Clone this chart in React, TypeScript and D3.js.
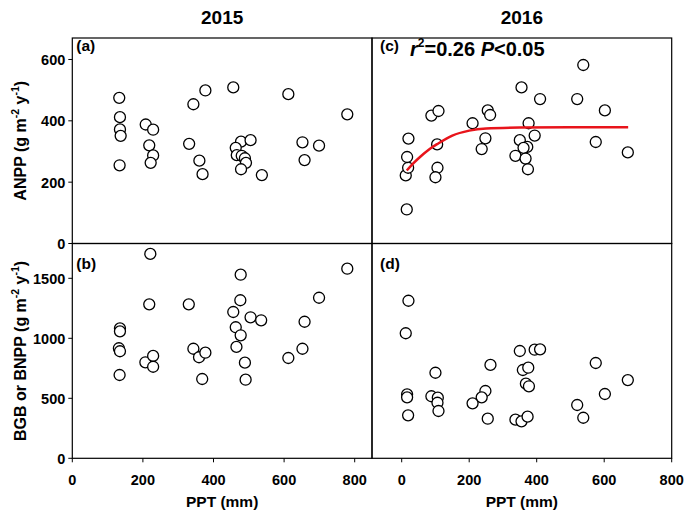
import React from "react";
import * as d3 from "d3";

// Panel (a): 2015 ANPP
const pptA = [133, 135, 135, 137, 134, 208, 229, 218, 229, 222, 343, 377, 331, 360, 369, 456, 478, 505, 463, 466, 480, 489, 492, 478, 537, 612, 652, 658, 699, 779];
const anppA = [475, 412, 372, 351, 255, 388, 371, 320, 287, 263, 454, 499, 325, 270, 226, 509, 332, 337, 312, 288, 286, 278, 263, 242, 223, 487, 330, 272, 319, 421];

// Panel (b): 2015 BGB/BNPP
const pptB = [221, 218, 135, 135, 132, 135, 134, 207, 229, 229, 330, 343, 359, 377, 368, 477, 476, 456, 505, 535, 463, 477, 465, 489, 491, 612, 652, 658, 699, 779];
const bnppB = [1703, 1283, 1083, 1058, 917, 892, 694, 800, 853, 763, 1283, 913, 842, 880, 661, 1530, 1317, 1219, 1175, 1150, 1092, 1025, 928, 797, 655, 836, 913, 1138, 1338, 1580];

// Panel (c): 2016 ANPP
const pptC = [15, 12, 19, 16, 20, 88, 109, 105, 106, 100, 210, 255, 262, 248, 237, 355, 376, 394, 350, 372, 361, 337, 367, 374, 410, 538, 520, 602, 575, 670];
const anppC = [111, 222, 247, 282, 342, 417, 432, 323, 247, 216, 392, 434, 419, 343, 308, 509, 392, 352, 337, 315, 312, 286, 277, 242, 471, 582, 471, 434, 331, 297];

// Panel (d): 2016 BGB/BNPP
const pptD = [20, 12, 16, 16, 19, 100, 88, 107, 106, 109, 263, 248, 237, 210, 255, 350, 394, 410, 359, 375, 368, 377, 337, 355, 373, 575, 670, 602, 520, 538];
const bnppD = [1313, 1042, 533, 508, 358, 713, 517, 505, 463, 394, 778, 561, 508, 458, 330, 894, 905, 908, 736, 755, 622, 600, 322, 308, 347, 794, 652, 536, 444, 338];

// Fitted curve in panel (c)
const fitPPT = [15, 35, 55, 80, 105, 150, 200, 250, 350, 500, 671];
const fitANPP = [238, 262, 283, 306, 324, 352, 368, 375, 378, 379, 379];

const xTicks = [0, 200, 400, 600, 800];
const anppTicks = [0, 200, 400, 600];
const bnppTicks = [0, 500, 1000, 1500];
const yearLabels = ["2015", "2016"];
const panelLabels = ["(a)", "(b)", "(c)", "(d)"];

const FONT = "'Liberation Sans', Arial, Helvetica, sans-serif";

const L0 = 72.3, L1 = 372, R1 = 671.7;
const T0 = 38, MID = 243.5, B1 = 458.3;

const xLeft = d3.scaleLinear().domain([0, 849]).range([L0, L1]);
const xRight = d3.scaleLinear().domain([-88, 800]).range([L1, R1]);
const yTop = d3.scaleLinear().domain([0, 670]).range([MID, T0]);
const yBot = d3.scaleLinear().domain([0, 1790]).range([B1, MID]);

function Points({ xs, ys, x, y }: any) {
  return (
    <g>
      {xs.map((v: number, i: number) => (
        <circle key={i} cx={x(v)} cy={y(ys[i])} r={5.5} fill="white" stroke="black" strokeWidth={1.3} />
      ))}
    </g>
  );
}

export default function App() {
  const fitLine = d3
    .line<number>()
    .x((d) => xRight(d))
    .y((_, i) => yTop(fitANPP[i]))
    .curve(d3.curveMonotoneX)(fitPPT);

  const tickFont = { fontFamily: FONT, fontWeight: 700, fontSize: 14.5 } as any;
  const lblFont = { fontFamily: FONT, fontWeight: 700, fontSize: 15.5 } as any;

  return (
    <svg width={685} height={513} style={{ position: "absolute", left: 0, top: 0, background: "white" }}>
      <rect x={0} y={0} width={685} height={513} fill="white" />
      {/* Year titles */}
      <text x={(L0 + L1) / 2} y={24} textAnchor="middle" style={{ fontFamily: FONT, fontWeight: 700, fontSize: 19 }}>{yearLabels[0]}</text>
      <text x={(L1 + R1) / 2} y={24} textAnchor="middle" style={{ fontFamily: FONT, fontWeight: 700, fontSize: 19 }}>{yearLabels[1]}</text>

      {/* Points */}
      <Points xs={pptA} ys={anppA} x={xLeft} y={yTop} />
      <Points xs={pptB} ys={bnppB} x={xLeft} y={yBot} />
      <Points xs={pptC} ys={anppC} x={xRight} y={yTop} />
      <Points xs={pptD} ys={bnppD} x={xRight} y={yBot} />

      {/* Fit */}
      <path d={fitLine || ""} fill="none" stroke="#e8141b" strokeWidth={2.5} />

      {/* Frames */}
      <rect x={L0} y={T0} width={L1 - L0} height={MID - T0} fill="none" stroke="black" strokeWidth={1.2} />
      <rect x={L1} y={T0} width={R1 - L1} height={MID - T0} fill="none" stroke="black" strokeWidth={1.2} />
      <rect x={L0} y={MID} width={L1 - L0} height={B1 - MID} fill="none" stroke="black" strokeWidth={1.2} />
      <rect x={L1} y={MID} width={R1 - L1} height={B1 - MID} fill="none" stroke="black" strokeWidth={1.2} />

      {/* Y ticks top */}
      {anppTicks.map((t) => (
        <g key={"yt" + t}>
          <line x1={L0 - 4} x2={L0} y1={yTop(t)} y2={yTop(t)} stroke="black" strokeWidth={1} />
          <text x={L0 - 7} y={yTop(t) + 5.5} textAnchor="end" style={tickFont}>{t}</text>
        </g>
      ))}
      {/* Y ticks bottom */}
      {bnppTicks.map((t) => (
        <g key={"yb" + t}>
          <line x1={L0 - 4} x2={L0} y1={yBot(t)} y2={yBot(t)} stroke="black" strokeWidth={1} />
          <text x={L0 - 7} y={yBot(t) + 5.5} textAnchor="end" style={tickFont}>{t}</text>
        </g>
      ))}
      {/* X ticks */}
      {xTicks.map((t) => (
        <g key={"xl" + t}>
          <line x1={xLeft(t)} x2={xLeft(t)} y1={B1} y2={B1 + 4} stroke="black" strokeWidth={1} />
          <text x={xLeft(t)} y={B1 + 27} textAnchor="middle" style={tickFont}>{t}</text>
        </g>
      ))}
      {xTicks.map((t) => (
        <g key={"xr" + t}>
          <line x1={xRight(t)} x2={xRight(t)} y1={B1} y2={B1 + 4} stroke="black" strokeWidth={1} />
          <text x={xRight(t)} y={B1 + 27} textAnchor="middle" style={tickFont}>{t}</text>
        </g>
      ))}

      {/* Panel labels */}
      <text x={L0 + 4} y={T0 + 13} style={lblFont}>{panelLabels[0]}</text>
      <text x={L0 + 4} y={MID + 25} style={lblFont}>{panelLabels[1]}</text>
      <text x={L1 + 8} y={T0 + 13} style={lblFont}>{panelLabels[2]}</text>
      <text x={L1 + 8} y={MID + 25} style={lblFont}>{panelLabels[3]}</text>

      {/* Stats */}
      <text x={410} y={56} style={{ fontFamily: FONT, fontWeight: 700, fontSize: 20 }}>
        <tspan fontStyle="italic">r</tspan>
        <tspan fontSize={12} dy={-9}>2</tspan>
        <tspan dy={9}>=0.26 </tspan>
        <tspan fontStyle="italic">P</tspan>
        <tspan>&lt;0.05</tspan>
      </text>

      {/* Axis titles */}
      <text x={(L0 + L1) / 2} y={507} textAnchor="middle" style={{ fontFamily: FONT, fontWeight: 700, fontSize: 15.5 }}>PPT (mm)</text>
      <text x={(L1 + R1) / 2} y={507} textAnchor="middle" style={{ fontFamily: FONT, fontWeight: 700, fontSize: 15.5 }}>PPT (mm)</text>

      <text transform={`translate(26,${(T0 + MID) / 2}) rotate(-90)`} textAnchor="middle" style={{ fontFamily: FONT, fontWeight: 700, fontSize: 16 }}>
        ANPP (g m<tspan fontSize={10.5} dy={-7}>-2</tspan><tspan dy={7}> y</tspan><tspan fontSize={10.5} dy={-7}>-1</tspan><tspan dy={7}>)</tspan>
      </text>
      <text transform={`translate(26,${(MID + B1) / 2}) rotate(-90)`} textAnchor="middle" style={{ fontFamily: FONT, fontWeight: 700, fontSize: 16 }}>
        BGB or BNPP (g m<tspan fontSize={10.5} dy={-7}>-2</tspan><tspan dy={7}> y</tspan><tspan fontSize={10.5} dy={-7}>-1</tspan><tspan dy={7}>)</tspan>
      </text>
    </svg>
  );
}
